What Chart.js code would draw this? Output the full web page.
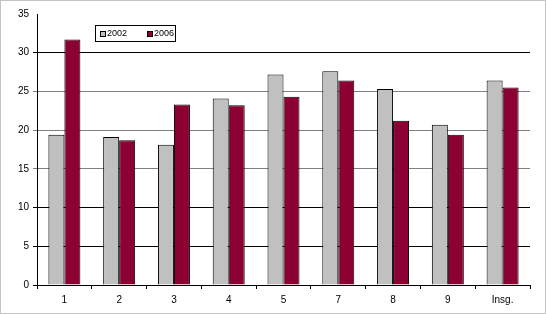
<!DOCTYPE html>
<html>
<head>
<meta charset="utf-8">
<script src="https://cdn.jsdelivr.net/npm/chart.js@4"></script>
<style>
  html, body { margin: 0; padding: 0; background: #fff; }
  #wrap { width: 546px; height: 314px; position: relative; }
</style>
</head>
<body>
<div id="wrap"><canvas id="chart" width="546" height="314"></canvas></div>
<script>
const categories = ['1', '2', '3', '4', '5', '7', '8', '9', 'Insg.'];
const values2002 = [19.4, 19.1, 18.1, 24.1, 27.2, 27.6, 25.3, 20.7, 26.4];
const values2006 = [31.7, 18.7, 23.3, 23.2, 24.3, 26.4, 21.2, 19.4, 25.5];
const yTicks = [0, 5, 10, 15, 20, 25, 30, 35];

const grey = '#c0c0c0';
const wine = '#8c0034';

// white background + thin grey frame, like the pasted office chart
const framePlugin = {
    id: 'frame',
    beforeDraw(chart) {
        const ctx = chart.ctx;
        ctx.save();
        ctx.fillStyle = '#fff';
        ctx.fillRect(0, 0, chart.width, chart.height);
        ctx.strokeStyle = '#c4c4c4';
        ctx.lineWidth = 1;
        ctx.strokeRect(0.5, 0.5, chart.width - 1, chart.height - 1);
        ctx.restore();
    }
};

// small boxed legend sitting inside the plot
const boxLegend = {
    id: 'boxLegend',
    afterDraw(chart) {
        const ctx = chart.ctx;
        const x = 95, y = 25, w = 80, h = 16;
        ctx.save();
        ctx.fillStyle = '#fff';
        ctx.fillRect(x, y, w, h);
        ctx.strokeStyle = '#000';
        ctx.lineWidth = 1;
        ctx.strokeRect(x + 0.5, y + 0.5, w, h);
        ctx.font = '9px Arial, "Liberation Sans", sans-serif';
        ctx.textBaseline = 'middle';
        let cx = x + 5;
        chart.data.datasets.forEach(ds => {
            ctx.fillStyle = ds.backgroundColor;
            ctx.fillRect(cx, y + 6, 5, 5);
            ctx.strokeStyle = '#000';
            ctx.strokeRect(cx + 0.5, y + 6.5, 5, 5);
            ctx.fillStyle = '#000';
            ctx.fillText(ds.label, cx + 7, y + h / 2 + 1);
            cx += 47;
        });
        ctx.restore();
    }
};

new Chart(document.getElementById('chart'), {
    type: 'bar',
    data: {
        labels: categories,
        datasets: [
            { label: '2002', data: values2002, backgroundColor: grey, borderColor: '#000', borderWidth: 1 },
            { label: '2006', data: values2006, backgroundColor: wine, borderColor: '#000', borderWidth: 1 }
        ]
    },
    options: {
        responsive: false,
        animation: false,
        devicePixelRatio: 1,
        layout: { padding: { left: 0, top: 14, right: 16, bottom: 0 } },
        categoryPercentage: 0.584,
        barPercentage: 1,
        plugins: {
            legend: { display: false },
            tooltip: { enabled: false }
        },
        scales: {
            x: {
                afterFit(scale) { scale.height = 29; },
                grid: {
                    offset: true,
                    drawOnChartArea: false,
                    drawTicks: true,
                    tickLength: 4,
                    color: '#000'
                },
                border: { color: '#000', width: 1 },
                ticks: {
                    color: '#000',
                    padding: 5,
                    font: { family: 'Arial, "Liberation Sans", sans-serif', size: 10 }
                }
            },
            y: {
                min: 0,
                max: 35,
                afterFit(scale) { scale.width = 37; },
                afterBuildTicks(scale) { scale.ticks = yTicks.map(v => ({ value: v })); },
                grid: {
                    tickLength: 4,
                    color: ctx => (ctx.tick && [15, 20, 25].includes(ctx.tick.value)) ? '#808080' : '#000',
                    lineWidth: ctx => (ctx.tick && ctx.tick.value === 35) ? 0 : 1
                },
                border: { color: '#000', width: 1 },
                ticks: {
                    color: '#000',
                    padding: 4,
                    font: { family: 'Arial, "Liberation Sans", sans-serif', size: 10 }
                }
            }
        }
    },
    plugins: [framePlugin, boxLegend]
});
</script>
</body>
</html>
